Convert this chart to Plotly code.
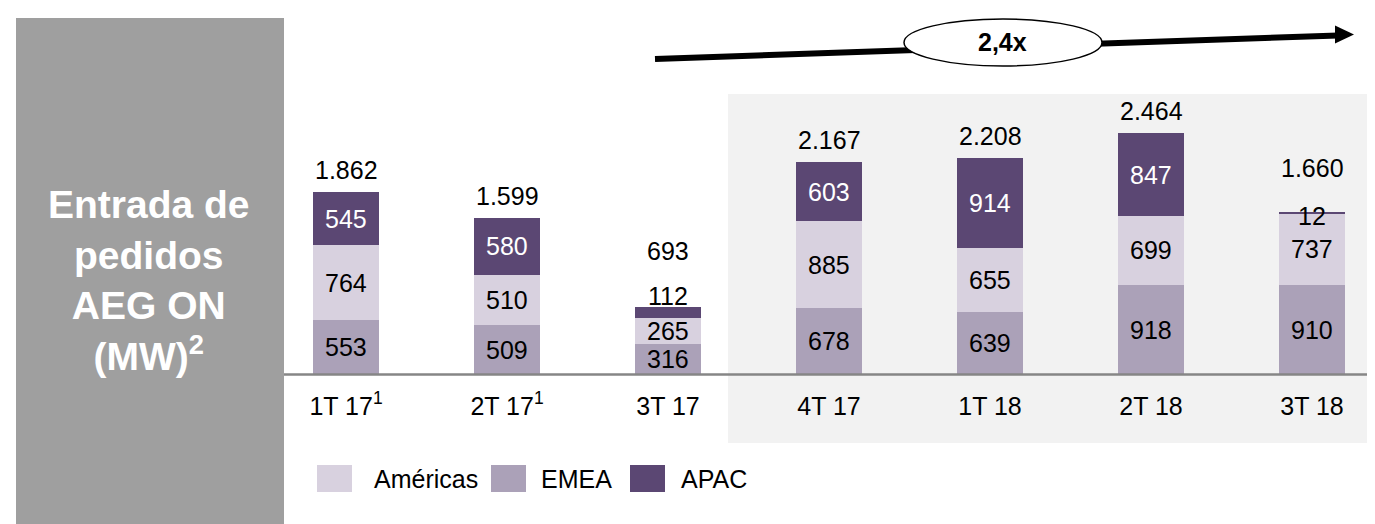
import plotly.graph_objects as go

# ------------------------------------------------------------------ #
# dados (MW)
trimestres = ["1T 17<sup>1</sup>", "2T 17<sup>1</sup>", "3T 17", "4T 17", "1T 18", "2T 18", "3T 18"]
emea = [553, 509, 316, 678, 639, 918, 910]
americas = [764, 510, 265, 885, 655, 699, 737]
apac = [545, 580, 112, 603, 914, 847, 12]
totais = [1862, 1599, 693, 2167, 2208, 2464, 1660]
series = ["Américas", "EMEA", "APAC"]

cor = {"Américas": "#d8d1df", "EMEA": "#aba1b8", "APAC": "#5b4773"}
W, H = 1375, 524
FONTE = "Arial, Liberation Sans, sans-serif"
TAM = 25


# pixel -> paper
def xp(px):
    return px / W


def yp(py):
    return 1 - py / H


# ------------------------------------------------------------------ #
idx = list(range(len(trimestres)))
fig = go.Figure()
for nome, vals in [("EMEA", emea), ("Américas", americas), ("APAC", apac)]:
    fig.add_trace(go.Bar(
        x=idx, y=vals, name=nome, width=0.41,
        marker=dict(color=cor[nome], line=dict(width=0)),
        showlegend=False, hoverinfo="y+name",
    ))

anots = []
for i in idx:
    base = 0
    for nome, vals, fc in [("EMEA", emea, "black"), ("Américas", americas, "black"), ("APAC", apac, "white")]:
        v = vals[i]
        if v < 50:
            # segmento minimo: rotulo por cima da borda
            anots.append(dict(x=i, y=base + v, text=str(v), showarrow=False, yanchor="middle",
                              yshift=-4, font=dict(size=TAM, color="black")))
        elif v < 150:
            anots.append(dict(x=i, y=base + v, text=str(v), showarrow=False, yanchor="bottom",
                              yshift=-5, font=dict(size=TAM, color="black")))
        else:
            anots.append(dict(x=i, y=base + v / 2, text=str(v), showarrow=False, yanchor="middle",
                              font=dict(size=TAM, color=fc)))
        base += v
    extra = 0
    if apac[i] < 50:
        extra = 22
    elif apac[i] < 150:
        extra = 34
    anots.append(dict(x=i, y=emea[i] + americas[i] + apac[i], text=f"{totais[i]:,}".replace(",", "."),
                      showarrow=False, yanchor="bottom", yshift=6 + extra, font=dict(size=TAM, color="black")))

# titulo no painel cinza
anots.append(dict(xref="paper", yref="paper", x=xp(141), y=yp(272),
                  text="<b>Entrada de<br>pedidos<br>AEG ON<br>(MW)<sup>2</sup></b>",
                  showarrow=False, font=dict(size=39, color="white", family="Arial, Liberation Sans"),
                  xanchor="center", yanchor="middle", align="center"))

# rotulo da seta
anots.append(dict(xref="paper", yref="paper", x=xp(994), y=yp(34), text="<b>2,4x</b>", showarrow=False,
                  font=dict(size=25, color="black", family="Liberation Sans Narrow, Arial Narrow, Arial"),
                  xanchor="center", yanchor="middle"))

# legenda manual
leg_x = [309, 483, 622]
leg_txt = [366, 533, 673]
for nome, x0, xt in zip(series, leg_x, leg_txt):
    anots.append(dict(xref="paper", yref="paper", x=xp(xt - 2), y=yp(471), text=nome, showarrow=False,
                      xanchor="left", yanchor="middle", font=dict(size=TAM, color="black")))

shapes = [
    # painel cinza
    dict(type="rect", xref="paper", yref="paper", x0=xp(8), x1=xp(276), y0=yp(10), y1=yp(524),
         fillcolor="#9f9f9f", line=dict(width=0), layer="below"),
    # area destacada
    dict(type="rect", xref="paper", yref="paper", x0=xp(720), x1=xp(1375), y0=yp(86), y1=yp(435),
         fillcolor="#f2f2f2", line=dict(width=0), layer="below"),
    # linha base
    dict(type="line", xref="paper", y0=0, y1=0, x0=xp(276), x1=1, line=dict(color="#868686", width=2.5), layer="above"),
    # seta
    dict(type="line", xref="paper", yref="paper", x0=xp(647), y0=yp(51), x1=xp(1330), y1=yp(27.5),
         line=dict(color="black", width=6)),
    dict(type="path", xref="paper", yref="paper",
         path=f"M {xp(1346)} {yp(26.5)} L {xp(1327)} {yp(17.5)} L {xp(1327)} {yp(35.5)} Z",
         fillcolor="black", line=dict(width=0)),
    dict(type="circle", xref="paper", yref="paper", x0=xp(896), x1=xp(1094), y0=yp(11), y1=yp(58),
         fillcolor="white", line=dict(color="black", width=1.5)),
]
for nome, x0 in zip(series, leg_x):
    shapes.append(dict(type="rect", xref="paper", yref="paper", x0=xp(x0), x1=xp(x0 + 35), y0=yp(457), y1=yp(484),
                       fillcolor=cor[nome], line=dict(width=0)))

# escala: centro das barras em 338 + 161*i, base em y=366.5
k = 0.098
fig.update_layout(
    width=W, height=H, barmode="stack",
    margin=dict(l=0, r=0, t=0, b=0),
    paper_bgcolor="white", plot_bgcolor="rgba(0,0,0,0)",
    font=dict(family=FONTE, size=TAM, color="black"),
    xaxis=dict(range=[(0 - 338) / 161, (W - 338) / 161], tickvals=idx, ticktext=trimestres,
               showgrid=False, zeroline=False, showline=False, ticks="",
               anchor="free", position=1 - 366.5 / H, ticklabelstandoff=14,
               tickfont=dict(size=TAM, color="black")),
    yaxis=dict(range=[-(H - 366.5) / k, 366.5 / k], visible=False, showgrid=False),
    annotations=anots, shapes=shapes,
)
fig.write_html("out.html")
